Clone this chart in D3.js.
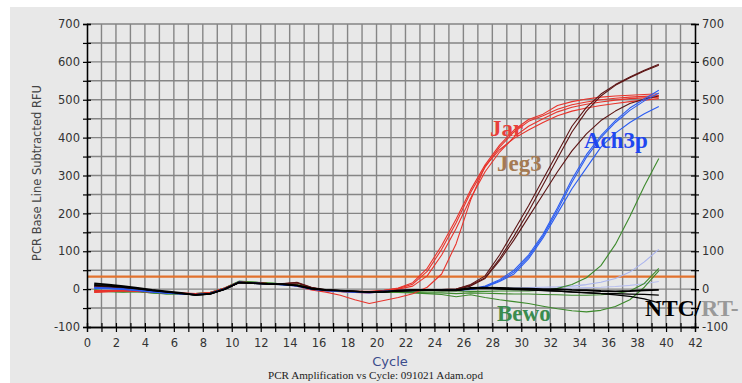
<!DOCTYPE html>
<html>
<head>
<meta charset="utf-8">
<script src="https://cdn.jsdelivr.net/npm/d3@7/dist/d3.min.js"></script>
<style>
  html, body { margin: 0; padding: 0; background: #fff; }
  svg { display: block; }
</style>
</head>
<body>
<svg id="chart" width="742" height="383"></svg>
<script>
// Cycle numbers 1..40 (points drawn half a cycle to the left of the cycle number)
const cycles = d3.range(1, 41);
const yTicks = [-100, 0, 100, 200, 300, 400, 500, 600, 700];
const xTicks = d3.range(0, 43, 2);
const threshold = 33;

// Baseline-subtracted RFU per well, cycles 1..40
const jar1 = [-8,-6,-4,-5,-7,-9,-11,-13,-10,2,19,17,15,13,10,0,-3,-5,-6,-6,-3,3,17,55,115,185,262,328,380,420,448,462,485,495,502,507,510,512,514,516];
const jar2 = [-6,-5,-3,-4,-6,-8,-10,-12,-9,3,18,16,14,13,9,-1,-4,-6,-7,-7,-4,2,13,47,105,175,255,322,375,415,443,458,475,487,494,500,504,507,509,511];
const jar3 = [-4,-4,-3,-4,-6,-9,-11,-13,-10,2,18,16,15,14,10,0,-4,-7,-9,-10,-6,0,8,35,90,160,240,310,362,402,430,450,468,480,488,494,499,503,505,507];
const jar4 = [-9,-7,-5,-6,-8,-10,-12,-14,-11,1,19,17,15,13,8,-2,-8,-16,-28,-38,-30,-22,-12,5,40,120,235,325,368,398,420,440,458,470,478,485,490,495,499,503];

const jeg1 = [8,6,2,-2,-6,-9,-12,-14,-11,1,18,16,15,14,18,5,-2,-4,-6,-7,-5,-3,-2,-1,-1,0,12,35,90,155,220,290,360,430,480,515,540,560,578,594];
const jeg2 = [6,5,2,-2,-6,-9,-12,-14,-11,1,18,16,15,15,17,4,-3,-5,-6,-7,-5,-3,-2,-2,-1,0,10,30,80,140,205,275,345,415,470,510,538,558,576,591];
const jeg3 = [7,5,1,-3,-7,-10,-12,-15,-11,0,17,15,14,14,16,3,-3,-5,-7,-8,-6,-4,-3,-2,-2,-1,8,28,75,130,190,250,310,365,410,445,470,490,502,510];

const ach1 = [3,2,0,-3,-7,-10,-12,-14,-11,1,19,16,14,12,9,1,-3,-5,-7,-8,-6,-4,-3,-2,-3,-2,0,8,25,50,90,145,215,290,355,405,445,478,502,525];
const ach2 = [5,3,1,-3,-7,-10,-12,-15,-11,0,18,16,14,12,9,0,-4,-6,-8,-9,-7,-4,-3,-3,-3,-2,-1,6,22,45,85,140,208,282,348,400,440,472,497,518];
const ach3 = [2,1,-1,-4,-8,-11,-13,-15,-12,0,18,15,13,12,8,0,-4,-6,-8,-10,-7,-5,-4,-3,-3,-2,-1,5,20,40,80,135,200,265,320,375,412,440,463,482];

const bewo1 = [-3,-6,-7,-6,-10,-13,-12,-12,-9,3,20,18,16,14,12,2,-3,-5,-7,-8,-8,-7,-6,-5,-4,-5,-6,-6,-5,-5,-5,-3,2,12,30,62,118,192,272,345];
const bewo2 = [-5,-7,-8,-7,-10,-12,-12,-13,-10,2,19,18,16,14,11,1,-3,-5,-7,-8,-8,-9,-10,-12,-14,-20,-15,-22,-28,-33,-38,-45,-52,-57,-60,-56,-46,-28,5,48];
const bewo3 = [-2,-5,-6,-6,-9,-12,-13,-12,-9,3,21,19,16,14,11,2,-4,-6,-8,-8,-8,-8,-9,-10,-10,-12,-10,-11,-12,-13,-13,-14,-15,-16,-16,-15,-12,-5,15,55];

const rt1 = [6,4,1,-3,-7,-10,-12,-14,-11,1,18,16,14,12,9,1,-3,-5,-7,-8,-6,-4,-3,-2,-2,-1,3,3,3,3,4,5,6,8,12,18,28,45,72,105];
const rt2 = [4,3,0,-4,-8,-11,-13,-15,-12,0,17,15,14,12,8,0,-3,-5,-7,-8,-6,-4,-3,-2,-2,-1,2,2,2,1,1,1,2,3,4,5,7,10,14,20];

const ntc1 = [15,12,8,3,-2,-6,-10,-15,-12,0,18,16,14,13,10,2,-2,-4,-6,-8,-7,-4,-3,-2,-3,-3,3,4,3,2,1,0,0,-2,-3,-5,-6,-5,-3,-2];
const ntc2 = [12,10,6,2,-3,-7,-11,-16,-13,-1,17,15,14,13,10,1,-2,-4,-6,-8,-7,-5,-3,-2,-3,-3,2,3,2,0,-2,-4,-5,-8,-10,-12,-15,-19,-26,-36];
const ntc3 = [10,8,5,1,-4,-8,-12,-16,-13,-1,17,15,13,12,9,1,-3,-4,-6,-8,-7,-5,-3,-3,-3,-3,1,2,0,-1,-2,-3,-5,-7,-9,-11,-12,-13,-14,-16];

// drawing order: back to front
const wells = [
  { values: rt1,  color: "#aab4ee", width: 1.1 },
  { values: rt2,  color: "#b8bff0", width: 1.1 },
  { values: bewo2, color: "#3d8a2c", width: 1.1 },
  { values: bewo3, color: "#3d8a2c", width: 1.1 },
  { values: bewo1, color: "#3d8a2c", width: 1.1 },
  { values: jar4, color: "#e8332b", width: 1.1 },
  { values: jar3, color: "#e8332b", width: 1.1 },
  { values: jar2, color: "#e8332b", width: 1.1 },
  { values: jar1, color: "#e8332b", width: 1.1 },
  { values: jeg3, color: "#5c1414", width: 1.1 },
  { values: jeg2, color: "#5c1414", width: 1.1 },
  { values: jeg1, color: "#5c1414", width: 1.1 },
  { values: ach3, color: "#2a5cf2", width: 1.1 },
  { values: ach2, color: "#2a5cf2", width: 1.1 },
  { values: ach1, color: "#2a5cf2", width: 1.1 },
  { values: ntc3, color: "#000000", width: 1.3 },
  { values: ntc2, color: "#000000", width: 1.3 },
  { values: ntc1, color: "#000000", width: 1.8 }
];

const svg = d3.select("#chart");
const W = 742, H = 383;
const plotL = 87, plotR = 695, plotT = 24, plotB = 327;

// panel
svg.append("rect").attr("width", W).attr("height", H).attr("fill", "#ffffff");
svg.append("rect").attr("x", 10).attr("y", 7).attr("width", W - 10).attr("height", H - 7).attr("fill", "#e8e8e8");

const x = d3.scaleLinear().domain([0, 42]).range([plotL, plotR]);
const y = d3.scaleLinear().domain([-100, 700]).range([plotB, plotT]);

// grid
const grid = svg.append("g").attr("stroke", "#858585").attr("stroke-width", 1.4);
grid.selectAll("line.v").data(d3.range(1, 42)).join("line").attr("class", "v")
  .attr("x1", d => x(d)).attr("x2", d => x(d)).attr("y1", plotT).attr("y2", plotB);
grid.selectAll("line.h").data(d3.range(-50, 701, 50)).join("line").attr("class", "h")
  .attr("x1", plotL).attr("x2", plotR).attr("y1", d => y(d)).attr("y2", d => y(d));

// threshold
svg.append("line")
  .attr("x1", plotL).attr("x2", plotR)
  .attr("y1", y(threshold)).attr("y2", y(threshold))
  .attr("stroke", "#e2722e").attr("stroke-width", 2.2);

// amplification curves
const line = d3.line()
  .x((d, i) => x(cycles[i] - 0.5))
  .y(d => y(d));
svg.append("g").selectAll("path").data(wells).join("path")
  .attr("d", d => line(d.values))
  .attr("fill", "none")
  .attr("stroke", d => d.color)
  .attr("stroke-width", d => d.width)
  .attr("stroke-linejoin", "round");

// axes
const tickFont = "DejaVu Sans, Verdana, sans-serif";
const minorY = d3.range(-100, 701, 50);
function styleAxis(g) {
  g.select(".domain").attr("stroke", "#000").attr("stroke-width", 1.3);
  g.selectAll(".tick line").attr("stroke", "#000").attr("stroke-width", 1.2);
  g.selectAll("text").attr("fill", "#333").attr("font-family", tickFont).attr("font-size", 11.5);
}
// left axis, ticks on both sides
svg.append("g").attr("transform", `translate(${plotL},0)`)
  .call(d3.axisLeft(y).tickValues(minorY).tickSize(4).tickPadding(3)
    .tickFormat(d => yTicks.includes(d) ? d : ""))
  .call(styleAxis);
svg.append("g").attr("transform", `translate(${plotL},0)`)
  .call(d3.axisRight(y).tickValues(minorY).tickSize(4).tickFormat(""))
  .call(styleAxis);
// right axis
svg.append("g").attr("transform", `translate(${plotR},0)`)
  .call(d3.axisRight(y).tickValues(minorY).tickSize(4).tickPadding(3)
    .tickFormat(d => yTicks.includes(d) ? d : ""))
  .call(styleAxis);
svg.append("g").attr("transform", `translate(${plotR},0)`)
  .call(d3.axisLeft(y).tickValues(minorY).tickSize(4).tickFormat(""))
  .call(styleAxis);
// bottom axis
svg.append("g").attr("transform", `translate(0,${plotB})`)
  .call(d3.axisBottom(x).tickValues(d3.range(0, 43, 1)).tickSize(5).tickPadding(7)
    .tickFormat(d => xTicks.includes(d) ? d : ""))
  .call(styleAxis);
svg.append("g").attr("transform", `translate(0,${plotB})`)
  .call(d3.axisTop(x).tickValues(d3.range(0, 43, 1)).tickSize(4).tickFormat(""))
  .call(styleAxis);

// titles
svg.append("text")
  .attr("transform", `translate(41,173) rotate(-90)`)
  .attr("text-anchor", "middle")
  .attr("font-family", tickFont).attr("font-size", 11.5)
  .attr("fill", "#444")
  .text("PCR Base Line Subtracted RFU");
svg.append("text")
  .attr("x", 390).attr("y", 366)
  .attr("text-anchor", "middle")
  .attr("font-family", tickFont).attr("font-size", 13)
  .attr("fill", "#3b4c8c")
  .text("Cycle");
svg.append("text")
  .attr("x", 268).attr("y", 379)
  .attr("textLength", 215).attr("lengthAdjust", "spacingAndGlyphs")
  .attr("font-family", "Liberation Serif, serif").attr("font-size", 10)
  .attr("fill", "#222")
  .text("PCR Amplification vs Cycle: 091021 Adam.opd");

// sample labels
const serif = "Liberation Serif, Times New Roman, serif";
const labels = [
  { text: "Jar",   x: 490, y: 136, color: "#e8403a" },
  { text: "Jeg3",  x: 497, y: 171, color: "#a57a52" },
  { text: "Ach3p", x: 584, y: 148, color: "#1f47f0" },
  { text: "Bewo",  x: 497, y: 321, color: "#3b8c4f" }
];
svg.append("g").selectAll("text").data(labels).join("text")
  .attr("x", d => d.x).attr("y", d => d.y)
  .attr("font-family", serif).attr("font-size", 23).attr("font-weight", "bold")
  .attr("fill", d => d.color)
  .text(d => d.text);
const ntcLabel = svg.append("text")
  .attr("x", 645).attr("y", 316)
  .attr("font-family", serif).attr("font-size", 23.5).attr("font-weight", "bold");
ntcLabel.append("tspan").attr("fill", "#000").text("NTC/");
ntcLabel.append("tspan").attr("fill", "#999").text("RT-");
</script>
</body>
</html>
